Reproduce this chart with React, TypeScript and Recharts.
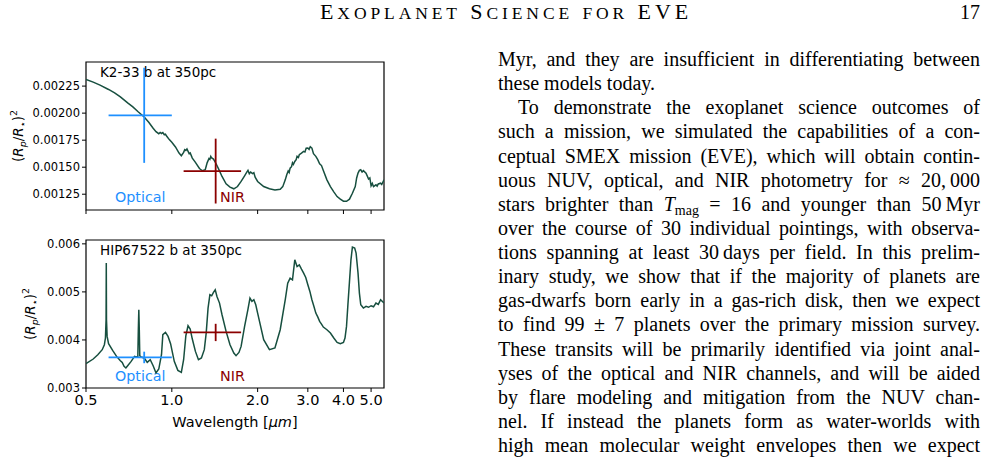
import React from 'react';
import { LineChart, Line, XAxis, YAxis, ReferenceArea, ReferenceLine, Customized } from 'recharts';

// K2-33 b model transmission spectrum (wavelength in micron, transit depth)
const k2Wavelength = [
  0.5, 0.53, 0.56, 0.6, 0.63, 0.66, 0.7, 0.73, 0.76, 0.8, 0.83, 0.86, 0.88, 0.9, 0.91, 0.92, 0.93, 0.94, 0.95, 0.96,
  0.98, 1.0, 1.03, 1.06, 1.08, 1.1, 1.11, 1.12, 1.13, 1.15, 1.16, 1.18, 1.21, 1.25, 1.28, 1.31, 1.33, 1.35, 1.36, 1.37,
  1.38, 1.4, 1.43, 1.46, 1.5, 1.55, 1.6, 1.65, 1.7, 1.75, 1.8, 1.83, 1.85, 1.87, 1.89, 1.92, 1.94, 1.96, 2.0, 2.1,
  2.2, 2.3, 2.4, 2.45, 2.5, 2.53, 2.56, 2.58, 2.6, 2.63, 2.65, 2.67, 2.7, 2.73, 2.75, 2.78, 2.8, 2.85, 2.9, 2.93,
  2.96, 3.0, 3.03, 3.06, 3.1, 3.14, 3.2, 3.25, 3.3, 3.35, 3.4, 3.5, 3.6, 3.7, 3.8, 3.9, 4.0, 4.1, 4.2, 4.3,
  4.4, 4.45, 4.5, 4.55, 4.6, 4.65, 4.7, 4.8, 4.9, 4.95, 5.0, 5.05, 5.1, 5.2, 5.25, 5.3, 5.4, 5.45, 5.55,
];
const k2Depth = [
  0.002312, 0.002287, 0.002259, 0.002219, 0.002188, 0.002151, 0.002095, 0.002058, 0.002015, 0.001965, 0.001916, 0.00186, 0.001829, 0.00181, 0.001822, 0.001812, 0.00182, 0.001801, 0.001806, 0.001786,
  0.001755, 0.00173, 0.001687, 0.001631, 0.001606, 0.001637, 0.001662, 0.001655, 0.001668, 0.001625, 0.001632, 0.001584, 0.001544, 0.001488, 0.001467, 0.001476, 0.00154, 0.00158, 0.001572, 0.0016,
  0.001585, 0.001575, 0.001532, 0.001482, 0.001414, 0.001346, 0.001315, 0.0013, 0.001321, 0.001368, 0.00142, 0.001452, 0.00147, 0.00144, 0.001455, 0.00144, 0.001448, 0.001408, 0.001368, 0.001321,
  0.0013, 0.00129, 0.001296, 0.00132, 0.001383, 0.00143, 0.001465, 0.00145, 0.001491, 0.001505, 0.00154, 0.001525, 0.001553, 0.00157, 0.0016, 0.00159, 0.001615, 0.00163, 0.001646, 0.00164,
  0.001675, 0.001677, 0.001665, 0.00169, 0.001677, 0.001625, 0.0016, 0.00157, 0.001532, 0.001515, 0.00147, 0.001383, 0.001321, 0.001272, 0.001228, 0.001204, 0.001185, 0.001185, 0.001204, 0.001259,
  0.001321, 0.0014, 0.001445, 0.00147, 0.001476, 0.001455, 0.001468, 0.001445, 0.00139, 0.0014, 0.001327, 0.00135, 0.00132, 0.001337, 0.001325, 0.001345, 0.001352, 0.00134, 0.001383,
];

// HIP67522 b model transmission spectrum
const hipWavelength = [
  0.5, 0.53, 0.55, 0.57, 0.58, 0.585, 0.588, 0.589, 0.59, 0.593, 0.6, 0.62, 0.64, 0.66, 0.67, 0.68, 0.69, 0.7, 0.72, 0.74,
  0.75, 0.76, 0.763, 0.766, 0.769, 0.772, 0.78, 0.8, 0.82, 0.84, 0.86, 0.88, 0.9, 0.92, 0.93, 0.95, 0.97, 0.99, 1.02, 1.05,
  1.08, 1.1, 1.12, 1.14, 1.16, 1.18, 1.21, 1.24, 1.27, 1.3, 1.32, 1.34, 1.36, 1.38, 1.4, 1.42, 1.44, 1.47, 1.5, 1.55,
  1.6, 1.65, 1.68, 1.72, 1.75, 1.8, 1.85, 1.88, 1.91, 1.94, 1.97, 2.0, 2.1, 2.2, 2.3, 2.4, 2.5, 2.55, 2.6, 2.65,
  2.7, 2.75, 2.8, 2.85, 2.9, 2.95, 3.0, 3.05, 3.1, 3.15, 3.2, 3.25, 3.3, 3.35, 3.4, 3.5, 3.6, 3.7, 3.8, 3.9,
  4.0, 4.05, 4.1, 4.15, 4.2, 4.25, 4.3, 4.38, 4.43, 4.5, 4.55, 4.6, 4.7, 4.8, 4.9, 5.0, 5.1, 5.2, 5.3, 5.4, 5.55,
];
const hipDepth = [
  0.003506, 0.003603, 0.003693, 0.003797, 0.003901, 0.00404, 0.00442, 0.0056, 0.00442, 0.004074, 0.003922, 0.003783, 0.003658, 0.003568, 0.00353, 0.00345, 0.003416, 0.003464, 0.003554, 0.003658,
  0.003644, 0.003658, 0.004213, 0.004629, 0.004213, 0.003672, 0.003644, 0.003624, 0.003534, 0.003589, 0.003464, 0.003312, 0.003395, 0.003693, 0.004109, 0.004157, 0.004074, 0.003922, 0.003554, 0.003367,
  0.003326, 0.003589, 0.004088, 0.004296, 0.004227, 0.004019, 0.003762, 0.003589, 0.003624, 0.003797, 0.004143, 0.004663, 0.00494, 0.00492, 0.004989, 0.005044, 0.004906, 0.004767, 0.004525, 0.004178,
  0.003901, 0.003728, 0.003672, 0.003741, 0.003866, 0.004282, 0.004642, 0.004871, 0.004802, 0.004837, 0.004733, 0.004559, 0.004005, 0.003797, 0.003832, 0.004213, 0.004837, 0.005183, 0.005287, 0.005252,
  0.005668, 0.005529, 0.005564, 0.005474, 0.005391, 0.0053, 0.005148, 0.00501, 0.004837, 0.0047, 0.004559, 0.00448, 0.004386, 0.00433, 0.004268, 0.004213, 0.004143, 0.00404, 0.003949, 0.003922,
  0.003949, 0.00404, 0.004282, 0.004767, 0.005218, 0.005668, 0.005931, 0.005911, 0.005807, 0.005391, 0.004975, 0.004733, 0.004663, 0.004698, 0.00468, 0.004712, 0.00469, 0.004767, 0.00474, 0.004837, 0.004767,
];

// photometric bands: [low, centre, high] wavelength
const bandNames = ['Optical', 'NIR'];
const bandRange = [
  [0.6, 0.8, 1.0],
  [1.1, 1.425, 1.75],
];
// simulated band depths and 1-sigma errors for each planet
const k2BandDepth = [0.00198, 0.001464];
const k2BandErr = [0.00044, 0.0003];
const hipBandDepth = [0.003636, 0.004156];
const hipBandErr = [0.00012, 0.00018];

const xTicks = [0.5, 1, 2, 3, 4, 5];
const k2Ticks = [0.00125, 0.0015, 0.00175, 0.002, 0.00225];
const hipTicks = [0.003, 0.004, 0.005, 0.006];

const LINE = '#174f3f';
const BAND_COLORS = ['#1e90ff', '#8b0000'];
const SANS = 'DejaVu Sans';
const X_DOMAIN: [number, number] = [0.5, 5.55];

type PanelProps = {
  wavelength: number[];
  depth: number[];
  bandDepth: number[];
  bandErr: number[];
  yDomain: [number, number];
  yTicks: number[];
  digits: number;
  title: string;
  marginTop: number;
  xAxisHeight: number;
  marginBottom: number;
  showWavelengths: boolean;
  labelY: number; // baseline of band names
  yLabelX: number;
};

const YLabel = ({ x, cy }: { x: number; cy: number }) => (
  <text
    transform={`translate(${x}, ${cy}) rotate(-90)`}
    textAnchor="middle"
    fontFamily={SANS}
    fontSize={13.5}
    fill="#000"
  >
    (<tspan fontStyle="italic">R</tspan>
    <tspan fontStyle="italic" fontSize={9.5} dy={3}>p</tspan>
    <tspan dy={-3}>/</tspan>
    <tspan fontStyle="italic">R</tspan>
    <tspan fontSize={9.5} dy={3}>⋆</tspan>
    <tspan dy={-3}>)</tspan>
    <tspan fontSize={9.5} dy={-6}>2</tspan>
  </text>
);

const SpectrumPanel = (p: PanelProps) => {
  const data = p.wavelength.map((w, i) => ({ w, d: p.depth[i] }));
  const plotH = 148;
  const height = p.marginTop + plotH + p.xAxisHeight + p.marginBottom;

  return (
    <LineChart
      width={400}
      height={height}
      data={data}
      margin={{ top: p.marginTop, right: 16, left: 26, bottom: p.marginBottom }}
    >
      <XAxis
        type="number"
        dataKey="w"
        scale="log"
        domain={X_DOMAIN}
        allowDataOverflow
        ticks={xTicks}
        interval={0}
        tickFormatter={(v: number) => (p.showWavelengths ? v.toFixed(1) : '')}
        tick={{ fill: '#000', fontSize: 14.5, fontFamily: SANS }}
        tickLine={{ stroke: '#000' }}
        tickSize={4}
        tickMargin={3}
        axisLine={false}
        height={p.xAxisHeight}
      />
      <YAxis
        type="number"
        domain={p.yDomain}
        allowDataOverflow
        ticks={p.yTicks}
        interval={0}
        tickFormatter={(v: number) => v.toFixed(p.digits)}
        tick={{ fill: '#000', fontSize: 11.5, fontFamily: SANS }}
        tickLine={{ stroke: '#000' }}
        tickSize={4}
        tickMargin={2}
        axisLine={false}
        width={60}
      />
      <Line
        type="linear"
        dataKey="d"
        stroke={LINE}
        strokeWidth={1.5}
        dot={false}
        isAnimationActive={false}
      />
      {bandRange.map((r, i) => (
        <ReferenceLine
          key={`h${i}`}
          segment={[
            { x: r[0], y: p.bandDepth[i] },
            { x: r[2], y: p.bandDepth[i] },
          ]}
          stroke={BAND_COLORS[i]}
          strokeWidth={1.8}
        />
      ))}
      {bandRange.map((r, i) => (
        <ReferenceLine
          key={`v${i}`}
          segment={[
            { x: r[1], y: p.bandDepth[i] - p.bandErr[i] },
            { x: r[1], y: p.bandDepth[i] + p.bandErr[i] },
          ]}
          stroke={BAND_COLORS[i]}
          strokeWidth={1.8}
        />
      ))}
      <ReferenceArea
        x1={X_DOMAIN[0]}
        x2={X_DOMAIN[1]}
        y1={p.yDomain[0]}
        y2={p.yDomain[1]}
        fill="none"
        fillOpacity={0}
        stroke="#000"
        strokeWidth={1.2}
      />
      <Customized
        component={() => (
          <g fontFamily={SANS}>
            <text x={100} y={p.marginTop + 15} fontSize={13.5} fill="#000">
              {p.title}
            </text>
            <text x={115} y={p.labelY} fontSize={14.3} fill={BAND_COLORS[0]}>
              {bandNames[0]}
            </text>
            <text x={220} y={p.labelY} fontSize={14.3} fill={BAND_COLORS[1]}>
              {bandNames[1]}
            </text>
            <YLabel x={p.yLabelX} cy={p.marginTop + plotH / 2} />
            {p.showWavelengths && (
              <text x={235} y={p.marginTop + plotH + 39} fontSize={14.5} textAnchor="middle" fill="#000">
                Wavelength [<tspan fontStyle="italic">μm</tspan>]
              </text>
            )}
          </g>
        )}
      />
    </LineChart>
  );
};

const textLines: { text: React.ReactNode; justify: boolean; indent?: boolean }[] = [
  { text: 'Myr, and they are insufficient in differentiating between', justify: true },
  { text: 'these models today.', justify: false },
  { text: 'To demonstrate the exoplanet science outcomes of', justify: true, indent: true },
  { text: 'such a mission, we simulated the capabilities of a con-', justify: true },
  { text: 'ceptual SMEX mission (EVE), which will obtain contin-', justify: true },
  { text: 'uous NUV, optical, and NIR photometry for ≈ 20,\u202f000', justify: true },
  {
    text: (
      <>
        stars brighter than <i>T</i>
        <span style={{ fontSize: 14, position: 'relative', top: 4 }}>mag</span> = 16 and younger than 50{'\u202f'}Myr
      </>
    ),
    justify: true,
  },
  { text: 'over the course of 30 individual pointings, with observa-', justify: true },
  { text: 'tions spanning at least 30\u202fdays per field. In this prelim-', justify: true },
  { text: 'inary study, we show that if the majority of planets are', justify: true },
  { text: 'gas-dwarfs born early in a gas-rich disk, then we expect', justify: true },
  { text: 'to find 99 ± 7 planets over the primary mission survey.', justify: true },
  { text: 'These transits will be primarily identified via joint anal-', justify: true },
  { text: 'yses of the optical and NIR channels, and will be aided', justify: true },
  { text: 'by flare modeling and mitigation from the NUV chan-', justify: true },
  { text: 'nel. If instead the planets form as water-worlds with', justify: true },
  { text: 'high mean molecular weight envelopes then we expect', justify: true },
];

// running head, set as small capitals: [initial capital, rest]
const headWords = [
  ['E', 'XOPLANET'],
  ['S', 'CIENCE'],
  ['', 'FOR'],
  ['EVE', ''],
];

const SERIF = '"Liberation Serif", serif';

export default function App() {
  return (
    <div
      style={{
        position: 'absolute',
        left: 0,
        top: 0,
        width: 988,
        height: 469,
        background: '#fff',
        overflow: 'hidden',
        color: '#000',
      }}
    >
      <div
        style={{
          position: 'absolute',
          left: 320,
          top: 0,
          whiteSpace: 'nowrap',
          fontFamily: SERIF,
          fontSize: 22,
          lineHeight: '24px',
          letterSpacing: 3.9,
        }}
      >
        {headWords.map((w, i) => (
          <React.Fragment key={i}>
            {i > 0 && ' '}
            {w[0]}
            <span style={{ fontSize: 17.5 }}>{w[1]}</span>
          </React.Fragment>
        ))}
      </div>
      <div
        style={{
          position: 'absolute',
          left: 900,
          top: 0,
          width: 80,
          textAlign: 'right',
          fontFamily: SERIF,
          fontSize: 20,
          lineHeight: '24px',
        }}
      >
        17
      </div>

      <div style={{ position: 'absolute', left: 0, top: 0 }}>
        <SpectrumPanel
          wavelength={k2Wavelength}
          depth={k2Depth}
          bandDepth={k2BandDepth}
          bandErr={k2BandErr}
          yDomain={[0.001104, 0.002473]}
          yTicks={k2Ticks}
          digits={5}
          title="K2-33 b at 350pc"
          marginTop={62}
          xAxisHeight={10}
          marginBottom={5}
          showWavelengths={false}
          labelY={202}
          yLabelX={23}
        />
      </div>
      <div style={{ position: 'absolute', left: 0, top: 220 }}>
        <SpectrumPanel
          wavelength={hipWavelength}
          depth={hipDepth}
          bandDepth={hipBandDepth}
          bandErr={hipBandErr}
          yDomain={[0.003, 0.00608]}
          yTicks={hipTicks}
          digits={3}
          title="HIP67522 b at 350pc"
          marginTop={20}
          xAxisHeight={50}
          marginBottom={7}
          showWavelengths={true}
          labelY={161}
          yLabelX={35}
        />
      </div>

      <div
        style={{
          position: 'absolute',
          left: 498,
          top: 47,
          width: 482,
          fontFamily: SERIF,
          fontSize: 20,
          lineHeight: '24.125px',
        }}
      >
        {textLines.map((l, i) => (
          <div
            key={i}
            style={{
              textAlign: l.justify ? 'justify' : 'left',
              textAlignLast: l.justify ? 'justify' : 'left',
              paddingLeft: l.indent ? 20 : 0,
              height: 24.125,
            }}
          >
            {l.text}
          </div>
        ))}
      </div>
    </div>
  );
}
